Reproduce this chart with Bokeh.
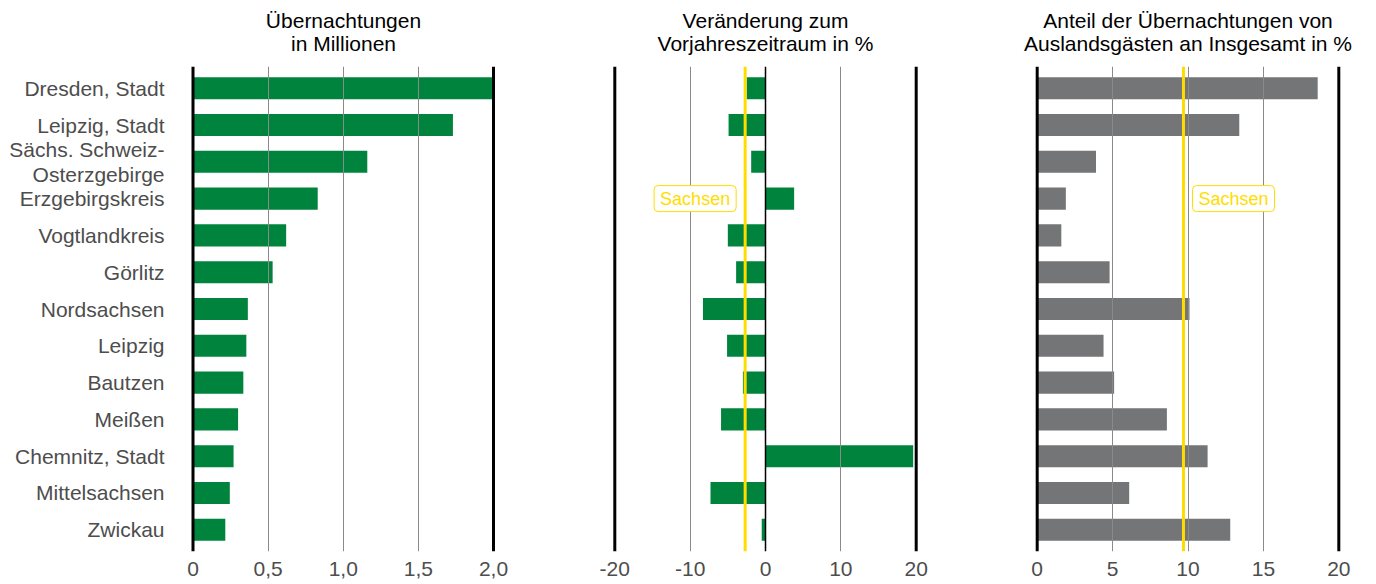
from bokeh.plotting import figure
from bokeh.layouts import row
from bokeh.models import FactorRange, Range1d, FixedTicker, Span, CustomJSTickFormatter, ColumnDataSource, Title
from bokeh.core.properties import value
from bokeh.embed import file_html
from bokeh.resources import INLINE

categories = ["Dresden, Stadt", "Leipzig, Stadt", "Sächs. Schweiz-\nOsterzgebirge", "Erzgebirgskreis",
              "Vogtlandkreis", "Görlitz", "Nordsachsen", "Leipzig", "Bautzen", "Meißen",
              "Chemnitz, Stadt", "Mittelsachsen", "Zwickau"]
overnight_mio = [2.0, 1.73, 1.16, 0.83, 0.62, 0.53, 0.365, 0.355, 0.335, 0.30, 0.27, 0.245, 0.215]
change_pct = [-2.5, -4.9, -1.9, 3.8, -5.0, -3.9, -8.3, -5.1, -3.0, -5.9, 19.6, -7.3, -0.5]
foreign_share_pct = [18.6, 13.4, 3.9, 1.9, 1.6, 4.8, 10.1, 4.4, 5.1, 8.6, 11.3, 6.1, 12.8]
sachsen_change = -2.7
sachsen_share = 9.7
sachsen_label = "Sachsen"
sachsen_label_row = "Erzgebirgskreis"

titles = ["Übernachtungen\nin Millionen",
          "Veränderung zum\nVorjahreszeitraum in %",
          "Anteil der Übernachtungen von\nAuslandsgästen an Insgesamt in %"]

GREEN = "#00843D"
GREY = "#747577"
YELLOW = "#FFDD00"
FONT = "Liberation Sans"
LABEL_COLOR = "#4d4d4d"

HEIGHT = 584
TOP = 66
BOTTOM = 33

y_range = FactorRange(factors=list(reversed(categories)), range_padding=0.09,
                      range_padding_units="absolute")

plain_fmt = CustomJSTickFormatter(code="return tick.toString();")
comma_fmt = CustomJSTickFormatter(code="return tick == 0 ? '0' : tick.toFixed(1).replace('.', ',');")


def make_fig(width, left, right, x_start, x_end, title, ticks, grid_ticks, thick, thin_black=None):
    p = figure(width=width, height=HEIGHT, y_range=y_range, x_range=Range1d(x_start, x_end),
               output_backend="svg", toolbar_location=None, min_border_left=left,
               min_border_right=right, min_border_top=TOP, min_border_bottom=BOTTOM)
    lines = title.split("\n")
    # the line nearest to the plot is added first
    standoffs = [24, -28]
    for i, line in enumerate(reversed(lines)):
        p.add_layout(Title(text=line, align="center", text_font=FONT, text_font_size="21px",
                           text_font_style="normal", text_color="black",
                           standoff=standoffs[i]), "above")
    p.outline_line_color = None
    p.background_fill_color = "white"
    p.border_fill_color = "white"
    p.ygrid.grid_line_color = None
    p.xgrid.ticker = FixedTicker(ticks=grid_ticks)
    p.xgrid.grid_line_color = "#8a8a8a"
    p.xgrid.grid_line_width = 1
    ax = p.xaxis[0]
    ax.ticker = FixedTicker(ticks=ticks)
    ax.formatter = plain_fmt
    ax.axis_line_color = None
    ax.major_tick_line_color = None
    ax.minor_tick_line_color = None
    ax.major_tick_out = 0
    ax.major_label_standoff = 10
    ax.major_label_text_font = FONT
    ax.major_label_text_font_size = "21px"
    ax.major_label_text_color = LABEL_COLOR
    for loc in thick:
        p.add_layout(Span(location=loc, dimension="height", line_color="black", line_width=3))
    if thin_black is not None:
        p.add_layout(Span(location=thin_black, dimension="height", line_color="black", line_width=1.5))
    return p


# Panel 1
p1 = make_fig(550, 189, 53, -0.0233, 2.0266, titles[0], [0, 0.5, 1.0, 1.5, 2.0], [0.5, 1.0, 1.5], [0, 2.0])
p1.xaxis[0].formatter = comma_fmt
p1.hbar(y=categories, right=overnight_mio, left=0, height=0.6, fill_color=GREEN, line_color=None, level="underlay")
ya = p1.yaxis[0]
ya.axis_line_color = None
ya.major_tick_line_color = None
ya.minor_tick_line_color = None
ya.major_tick_out = 0
ya.major_label_standoff = 25
ya.major_label_text_font = FONT
ya.major_label_text_font_size = "21px"
ya.major_label_text_color = LABEL_COLOR
ya.major_label_text_line_height = 1.1

# Panel 2
p2 = make_fig(425, 61, 56, -20.438, 20.438, titles[1], [-20, -10, 0, 10, 20], [-10, 10], [-20, 20], thin_black=0)
p2.yaxis.visible = False
p2.hbar(y=categories, right=change_pct, left=0, height=0.6, fill_color=GREEN, line_color=None, level="underlay")
p2.add_layout(Span(location=sachsen_change, dimension="height", line_color=YELLOW, line_width=3))
src2 = ColumnDataSource(dict(x=[sachsen_change], y=[sachsen_label_row], t=[sachsen_label]))
p2.text(x="x", y="y", text="t", source=src2, x_offset=-9, text_align="right", text_baseline="middle",
        text_font=value(FONT), text_font_size="18px", text_color=YELLOW,
        background_fill_color="white", border_line_color=YELLOW, border_line_width=1,
        padding=(6, 3), border_radius=4)

# Panel 3
p3 = make_fig(393, 58, 26, -0.245, 20.245, titles[2], [0, 5, 10, 15, 20], [5, 10, 15], [0, 20])
p3.yaxis.visible = False
p3.hbar(y=categories, right=foreign_share_pct, left=0, height=0.6, fill_color=GREY, line_color=None, level="underlay")
p3.add_layout(Span(location=sachsen_share, dimension="height", line_color=YELLOW, line_width=3))
src3 = ColumnDataSource(dict(x=[sachsen_share], y=[sachsen_label_row], t=[sachsen_label]))
p3.text(x="x", y="y", text="t", source=src3, x_offset=9, text_align="left", text_baseline="middle",
        text_font=value(FONT), text_font_size="18px", text_color=YELLOW,
        background_fill_color="white", border_line_color=YELLOW, border_line_width=1,
        padding=(6, 3), border_radius=4)

layout = row(p1, p2, p3, spacing=0)
open("out.html", "w").write(file_html(layout, INLINE))
